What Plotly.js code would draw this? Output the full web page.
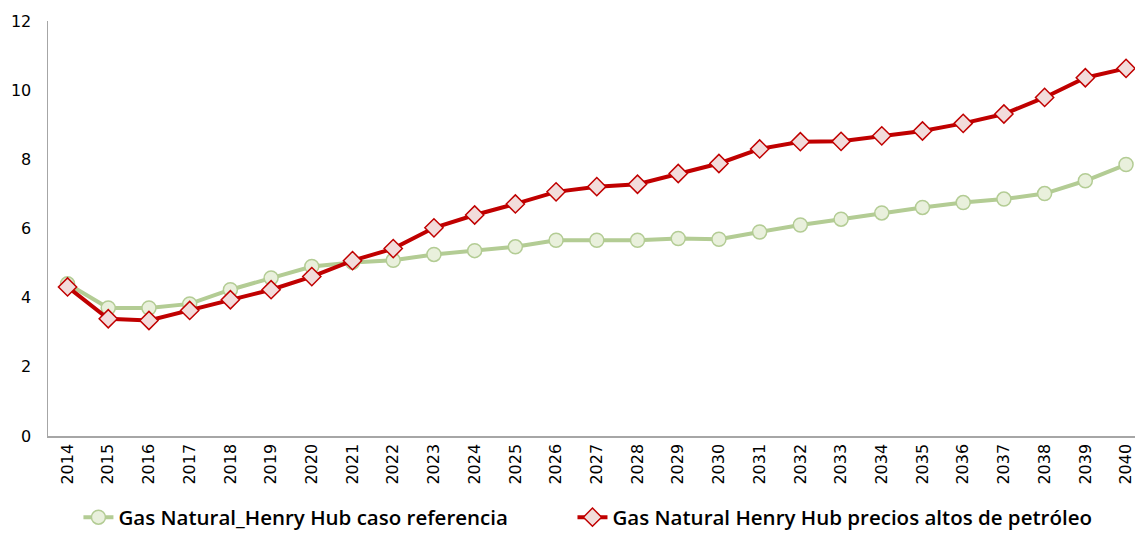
<!DOCTYPE html>
<html><head><meta charset="utf-8">
<script src="https://cdn.plot.ly/plotly-3.0.1.min.js"></script>
<style>body{margin:0;background:#fff}#chart{width:1135px;height:533px}</style>
</head><body><div id="chart"></div>
<script>
const years = [2014,2015,2016,2017,2018,2019,2020,2021,2022,2023,2024,2025,2026,2027,2028,2029,2030,2031,2032,2033,2034,2035,2036,2037,2038,2039,2040];
const referencia = [4.40,3.70,3.70,3.82,4.23,4.57,4.90,5.02,5.08,5.25,5.36,5.47,5.66,5.66,5.66,5.71,5.69,5.90,6.10,6.27,6.45,6.61,6.75,6.85,7.01,7.38,7.85];
const altosPetroleo = [4.31,3.39,3.34,3.63,3.94,4.23,4.61,5.07,5.42,6.02,6.39,6.71,7.06,7.21,7.28,7.59,7.88,8.30,8.51,8.52,8.68,8.82,9.04,9.31,9.79,10.36,10.63];
const yTicks = [0,2,4,6,8,10,12];
const names = ["Gas Natural_Henry Hub caso referencia","Gas Natural Henry Hub precios altos de petróleo"];

const traces = [
  {x: years, y: referencia, name: names[0], type: 'scatter', mode: 'lines+markers', legend: 'legend',
   line: {color: '#B3CC94', width: 4},
   marker: {symbol: 'circle', size: 14, color: '#E9F0DC', line: {color: '#B3CC94', width: 1.5}}},
  {x: years, y: altosPetroleo, name: names[1], type: 'scatter', mode: 'lines+markers', legend: 'legend2',
   line: {color: '#C00000', width: 4},
   marker: {symbol: 'diamond', size: 14, color: '#F2DCDB', line: {color: '#C00000', width: 1.5}}}
];

const legendFont = {family: 'Open Sans, sans-serif', size: 20.5, color: '#000', weight: 600};
const layout = {
  width: 1135, height: 533,
  margin: {l: 48, r: 0, t: 21, b: 97, autoexpand: false},
  paper_bgcolor: '#fff', plot_bgcolor: '#fff',
  showlegend: true,
  legend: {orientation: 'h', x: 0.028, xanchor: 'left', y: -0.196, yanchor: 'middle',
           font: legendFont, itemwidth: 30, bgcolor: 'rgba(0,0,0,0)'},
  legend2: {orientation: 'h', x: 0.4825, xanchor: 'left', y: -0.196, yanchor: 'middle',
           font: legendFont, itemwidth: 30, bgcolor: 'rgba(0,0,0,0)'},
  xaxis: {type: 'linear', range: [2013.52, 2040.22], tickmode: 'array', tickvals: years,
          ticktext: years.map(String), tickangle: -90, showgrid: false, zeroline: false,
          showline: true, linecolor: '#A6A6A6', linewidth: 1.5, ticks: '', automargin: false,
          ticklabeloverflow: 'allow',
          tickfont: {family: 'DejaVu Sans, sans-serif', size: 16, color: '#000'}},
  yaxis: {range: [0, 12], tickmode: 'array', tickvals: yTicks, showgrid: false, zeroline: false,
          showline: true, linecolor: '#A6A6A6', linewidth: 1.5, ticks: '', automargin: false,
          ticklabelstandoff: 12,
          tickfont: {family: 'DejaVu Sans, sans-serif', size: 16, color: '#000'}}
};

Plotly.newPlot('chart', traces, layout, {displayModeBar: false, staticPlot: true});
</script></body></html>
